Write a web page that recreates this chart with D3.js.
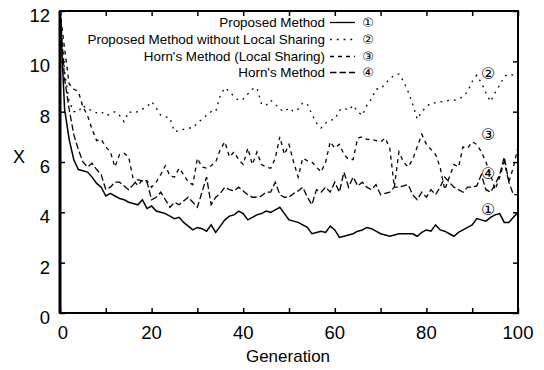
<!DOCTYPE html>
<html>
<head>
<meta charset="utf-8">
<script src="https://cdn.jsdelivr.net/npm/d3@7"></script>
<style>
  html, body { margin: 0; padding: 0; background: #fff; }
  svg { display: block; font-family: "Liberation Sans", Arial, Helvetica, sans-serif; }
</style>
</head>
<body>
<svg id="chart" width="544" height="370"></svg>
<script>
// Generations 0..100
const generations = d3.range(0, 101);

// Proposed Method (1)
const proposed = [
  12, 8.1, 6.9, 6.1, 5.7, 5.65, 5.6, 5.4, 5.15, 5.0,
  4.65, 4.75, 4.65, 4.55, 4.5, 4.4, 4.35, 4.3, 4.5, 4.15,
  4.25, 4.05, 4.0, 3.95, 3.85, 3.75, 3.8, 3.6, 3.45, 3.3,
  3.4, 3.35, 3.25, 3.5, 3.2, 3.45, 3.7, 3.85, 3.9, 4.05,
  3.95, 3.7, 3.8, 3.9, 3.95, 4.05, 4.0, 4.1, 4.2, 3.95,
  3.7, 3.65, 3.6, 3.5, 3.4, 3.15, 3.2, 3.25, 3.2, 3.45,
  3.3, 3.0, 3.05, 3.1, 3.15, 3.25, 3.3, 3.4, 3.35, 3.25,
  3.15, 3.1, 3.05, 3.1, 3.15, 3.15, 3.15, 3.15, 3.05, 3.2,
  3.3, 3.25, 3.5, 3.3, 3.25, 3.15, 3.05, 3.2, 3.3, 3.4,
  3.5, 3.75, 3.7, 3.65, 3.8, 3.9, 3.95, 3.6, 3.6, 3.8,
  4.0
];

// Proposed Method without Local Sharing (2)
const proposedNoSharing = [
  12, 9.6, 8.4, 8.0, 8.0, 8.25, 8.1, 8.05, 7.95, 8.0,
  7.85, 7.9, 8.0, 7.85, 7.6, 8.0, 7.95, 8.0, 8.1, 8.2,
  8.4, 8.15, 7.85, 7.8, 7.75, 7.2, 7.25, 7.3, 7.35, 7.35,
  7.55, 7.7, 7.85, 8.0, 8.0, 8.65, 8.95, 8.8, 8.6, 8.45,
  8.5, 8.7, 8.9, 8.95, 8.3, 8.25, 8.45, 8.3, 8.1, 8.0,
  8.15, 8.0, 8.1, 8.35, 8.3, 7.9, 7.55, 7.35, 7.55, 7.65,
  7.7, 8.05, 8.15, 8.05, 8.25, 8.0, 7.85, 8.25, 8.5, 8.9,
  8.9, 9.1, 9.3, 9.45, 9.5, 9.2, 8.8, 8.3, 7.7, 8.0,
  8.2, 8.35, 8.35, 8.4, 8.4, 8.45, 8.45, 8.5, 8.6, 8.8,
  9.2, 9.45, 9.15, 8.75, 8.4, 8.75, 9.05, 9.4, 9.5, 9.45,
  9.3
];

// Horn's Method (Local Sharing) (3)
const hornSharing = [
  12, 10.5, 9.1, 8.9, 8.8, 8.2, 7.85, 7.3, 6.85, 6.9,
  6.6, 6.4, 5.8, 6.3, 6.35, 6.2, 5.3, 5.05, 5.3, 5.25,
  5.0, 5.2, 5.5, 5.85, 5.45, 5.4, 5.75, 5.5, 5.2, 5.1,
  6.15, 5.8, 5.75, 5.85, 6.0, 6.5, 6.8, 6.2, 6.4, 6.1,
  5.9, 6.55, 5.9, 6.4, 5.9, 5.8, 5.75, 6.15, 7.0, 6.3,
  6.7, 6.0, 5.4, 6.15, 6.05, 6.0, 5.8, 5.6, 6.0, 6.8,
  6.55, 6.7, 6.3, 6.1, 6.1, 6.95, 7.0, 6.9, 6.9, 6.85,
  6.8, 6.95, 6.55, 5.0, 6.4, 6.0, 5.8, 6.1, 6.6, 7.1,
  6.7, 6.5, 6.3, 5.8, 4.9, 5.4, 5.9, 5.8, 6.6, 6.55,
  6.8, 6.7, 6.4, 6.0, 5.5, 4.9, 5.4, 6.0, 5.2, 5.8,
  6.6
];

// Horn's Method (4)
const horn = [
  12, 9.3, 8.1, 7.1, 6.5, 6.0, 5.8, 5.95, 5.7, 5.5,
  4.9, 5.0, 5.2, 5.2, 5.05, 4.9, 5.1, 5.3, 5.25, 5.2,
  4.5, 4.6, 4.8, 4.5, 4.2, 4.4, 4.3, 4.45, 4.6, 4.4,
  4.2, 4.8, 5.4, 4.3, 4.6, 4.75, 5.0, 4.9, 4.85, 5.0,
  4.85, 4.7, 4.6, 4.6, 4.65, 4.8, 4.8, 5.2, 4.7, 4.6,
  4.6, 4.75, 4.85, 5.0, 4.6, 4.3, 4.9, 4.8, 5.0, 4.8,
  5.2, 4.8, 5.6, 5.0, 5.4, 5.05, 5.2, 5.0, 4.9, 5.1,
  4.7, 4.75, 4.8, 5.0, 5.0, 5.05, 5.1, 4.7, 4.5, 4.8,
  4.6, 4.9, 4.7, 5.0, 5.4, 5.2, 5.0, 4.9, 4.8, 5.0,
  5.0, 5.05, 5.5, 4.9, 4.8, 5.1, 5.5, 6.2, 5.2, 4.7,
  4.7
];

const legendNames = [
  "Proposed Method",
  "Proposed Method without Local Sharing",
  "Horn's Method (Local Sharing)",
  "Horn's Method"
];
const markers = ["\u2460", "\u2461", "\u2462", "\u2463"];
// Marker positions beside the curves, in data units (generation, X)
const markerGen = [93.5, 93.5, 93.5, 93.5];
const markerVal = [4.15, 9.55, 7.1, 5.55];

const xTicksMajor = [0, 20, 40, 60, 80, 100];
const yTicksMajor = [0, 2, 4, 6, 8, 10, 12];

const seriesList = [proposed, proposedNoSharing, hornSharing, horn];
const dashes = [null, "1.8,5", "4,4", "6.5,3"];

const svg = d3.select("#chart");
const plotLeft = 60, plotRight = 518, plotTop = 11, plotBottom = 313;

const x = d3.scaleLinear().domain([0, 100]).range([plotLeft, plotRight]);
const y = d3.scaleLinear().domain([0, 12]).range([plotBottom, plotTop]);

const line = d3.line().x((d, i) => x(generations[i])).y(d => y(d));

svg.append("defs").append("clipPath").attr("id", "plotclip")
  .append("rect").attr("x", plotLeft).attr("y", plotTop)
  .attr("width", plotRight - plotLeft).attr("height", plotBottom - plotTop);

const plot = svg.append("g").attr("clip-path", "url(#plotclip)");
seriesList.forEach((s, k) => {
  plot.append("path")
    .datum(s)
    .attr("d", line)
    .attr("fill", "none")
    .attr("stroke", "#000")
    .attr("stroke-width", k === 0 ? 1.5 : 1.3)
    .attr("stroke-dasharray", dashes[k]);
});

// Axes: ticks pointing inward on all four sides
const tickFont = "18.5px";
const xb = svg.append("g").attr("transform", `translate(0,${plotBottom})`)
  .call(d3.axisBottom(x).tickValues(d3.range(0, 101, 10)).tickSize(-5).tickFormat(""));
const xt = svg.append("g").attr("transform", `translate(0,${plotTop})`)
  .call(d3.axisTop(x).tickValues(d3.range(0, 101, 10)).tickSize(-5).tickFormat(""));
const yl = svg.append("g").attr("transform", `translate(${plotLeft},0)`)
  .call(d3.axisLeft(y).tickValues(yTicksMajor).tickSize(-5).tickFormat(""));
const yr = svg.append("g").attr("transform", `translate(${plotRight},0)`)
  .call(d3.axisRight(y).tickValues(yTicksMajor).tickSize(-5).tickFormat(""));
[xb, xt, yl, yr].forEach(g => {
  g.select(".domain").remove();
  g.selectAll(".tick line").attr("stroke", "#000").attr("stroke-width", 1.5);
});

// Frame
svg.append("rect")
  .attr("x", plotLeft).attr("y", plotTop)
  .attr("width", plotRight - plotLeft).attr("height", plotBottom - plotTop)
  .attr("fill", "none").attr("stroke", "#000").attr("stroke-width", 2);
svg.append("line").attr("x1", plotLeft).attr("x2", plotLeft).attr("y1", plotTop).attr("y2", plotBottom)
  .attr("stroke", "#000").attr("stroke-width", 3);

// Tick labels
svg.append("g").selectAll("text").data(xTicksMajor).join("text")
  .attr("x", d => x(d) + (d === 0 ? 3 : 0)).attr("y", 339)
  .attr("text-anchor", "middle").attr("font-size", tickFont).text(d => d);
svg.append("g").selectAll("text").data(yTicksMajor).join("text")
  .attr("x", 50).attr("y", d => y(d) + 11)
  .attr("text-anchor", "end").attr("font-size", tickFont).text(d => d);

// Axis titles
svg.append("text").attr("x", 288).attr("y", 362).attr("text-anchor", "middle")
  .attr("font-size", "17px").text("Generation");
svg.append("text").attr("x", 19).attr("y", 163).attr("text-anchor", "middle")
  .attr("font-size", "18px").text("X");

// Legend
const legendY = [27, 44, 61, 77];
const lg = svg.append("g");
legendNames.forEach((name, k) => {
  lg.append("text").attr("x", 325).attr("y", legendY[k]).attr("text-anchor", "end")
    .attr("font-size", "13.4px").text(name);
  lg.append("line").attr("x1", 330).attr("x2", 355)
    .attr("y1", legendY[k] - 4.5).attr("y2", legendY[k] - 4.5)
    .attr("stroke", "#000").attr("stroke-width", 1.3)
    .attr("stroke-dasharray", dashes[k]);
  lg.append("text").attr("x", 368).attr("y", legendY[k]).attr("text-anchor", "middle")
    .attr("font-size", "13px").attr("font-family", "DejaVu Sans").text(markers[k]);
});

// Curve markers
svg.append("g").selectAll("text").data(markers).join("text")
  .attr("x", (d, i) => x(markerGen[i])).attr("y", (d, i) => y(markerVal[i]) + 6)
  .attr("text-anchor", "middle").attr("font-size", "16px").attr("font-family", "DejaVu Sans")
  .text(d => d);
</script>
</body>
</html>
